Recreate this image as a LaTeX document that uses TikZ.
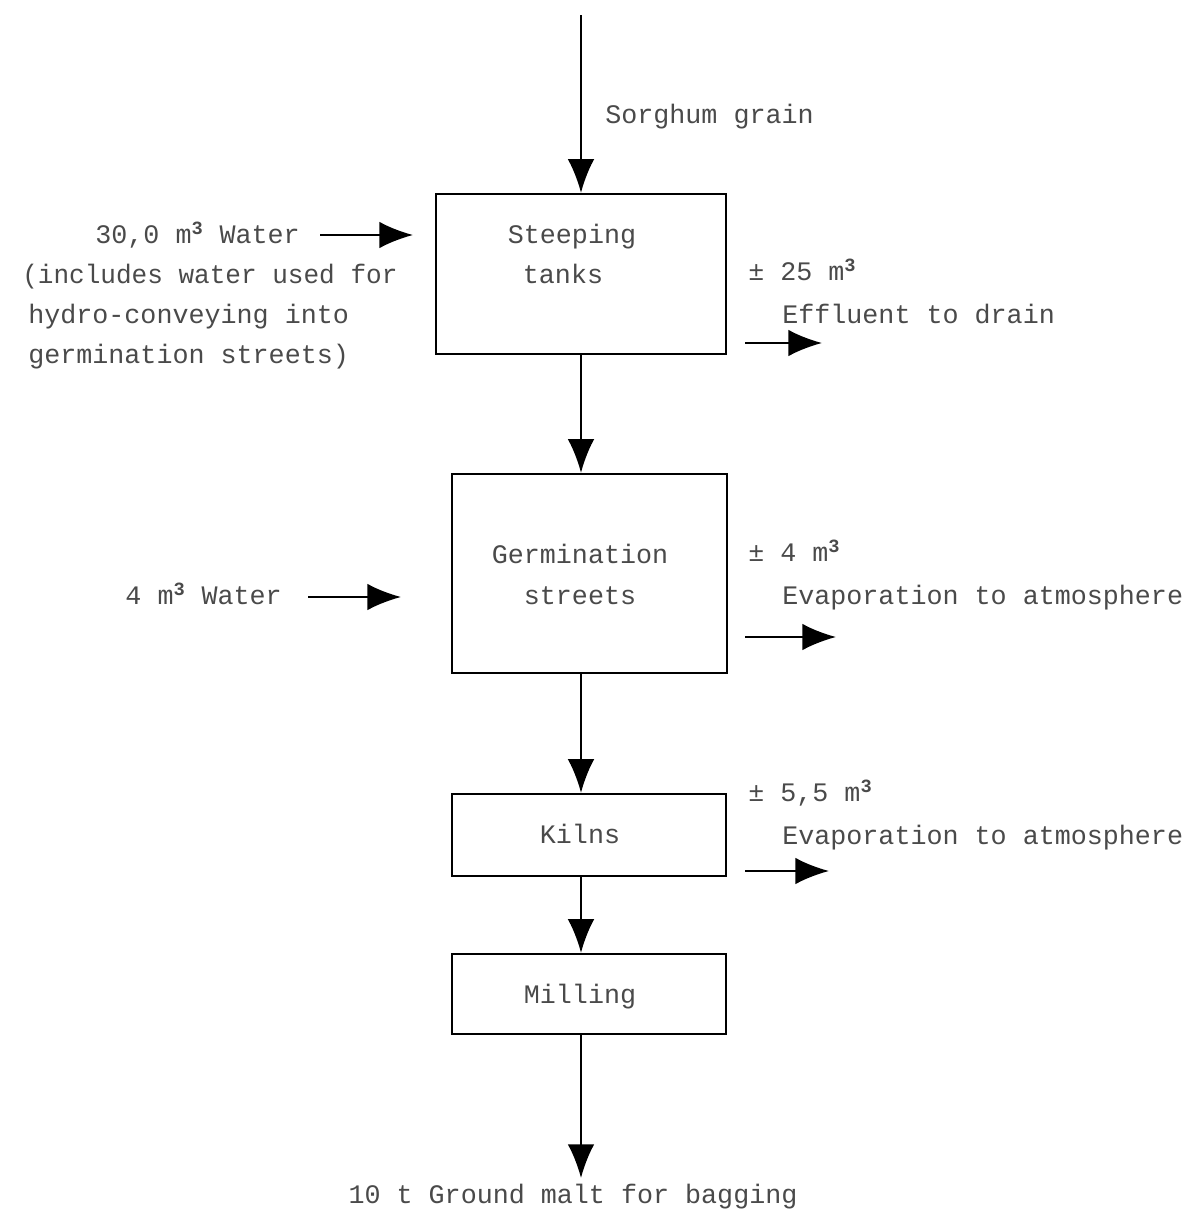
\documentclass[tikz,border=0pt]{standalone}
\usepackage{fontspec}
\newfontfamily\twfont{Liberation Mono}
\usetikzlibrary{arrows.meta}
\definecolor{txtgray}{HTML}{4A4A4A}
\tikzset{
  flow/.style={line width=1.6pt, -{Latex[length=24pt,width=19pt]}},
  box/.style={draw, line width=1.6pt, inner sep=0pt},
  lbl/.style={inner sep=0pt, text=txtgray, font=\twfont\fontsize{19}{40}\selectfont},
}
\newcommand{\cubed}{\textsuperscript{\bfseries 3}}
\begin{document}
\begin{tikzpicture}[x=0.025cm,y=-0.025cm]
\useasboundingbox (0,0) rectangle (1188,1210);
% boxes
\node[box, minimum width=7.25cm, minimum height=4cm] (steep) at (581,274) {};
\node[box, minimum width=6.875cm, minimum height=4.975cm] (germ) at (589.5,573.5) {};
\node[box, minimum width=6.85cm, minimum height=2.05cm] (kiln) at (589,835) {};
\node[box, minimum width=6.85cm, minimum height=2cm] (mill) at (589,994) {};
% box texts
\node[lbl, anchor=base] (tSteep1) at (572,243) {Steeping};
\node[lbl, anchor=base] (tSteep2) at (563,283) {tanks};
\node[lbl, anchor=base] (tGerm1) at (580,563) {Germination};
\node[lbl, anchor=base] (tGerm2) at (580,604) {streets};
\node[lbl, anchor=base] (tKiln) at (580,843) {Kilns};
\node[lbl, anchor=base] (tMill) at (580,1003) {Milling};
% main flow
\coordinate (top) at (581,15);
\coordinate (bottom) at (581,1178);
\draw[flow] (top) -- (steep.north);
\draw[flow] (steep.south) -- (steep.south |- germ.north);
\draw[flow] (steep.south |- germ.south) -- (steep.south |- kiln.north);
\draw[flow] (steep.south |- kiln.south) -- (steep.south |- mill.north);
\draw[flow] (steep.south |- mill.south) -- (bottom);
\node[lbl, anchor=base west] (sorg) at (605,123) {Sorghum grain};
\node[lbl, anchor=base] (out) at (573,1203) {10 t Ground malt for bagging};
% left inputs
\node[lbl, anchor=base east] (w30) at (300,243) {30,0 m\cubed{} Water};
\node[lbl, anchor=base west, xscale=0.975] (w30a) at (22,283) {(includes water used for};
\node[lbl, anchor=base west] (w30b) at (28,323) {hydro-conveying into};
\node[lbl, anchor=base west] (w30c) at (28,363) {germination streets)};
\coordinate (w30s) at (320,235);
\coordinate (w30e) at (413,235);
\draw[flow] (w30s) -- (w30e);
\node[lbl, anchor=base east] (w4) at (282,604) {4 m\cubed{} Water};
\coordinate (w4s) at (308,597);
\coordinate (w4e) at (401,597);
\draw[flow] (w4s) -- (w4e);
% right outputs
\node[lbl, anchor=base west] (e1a) at (748,280) {± 25 m\cubed};
\node[lbl, anchor=base west] (e1b) at (782,323) {Effluent to drain};
\coordinate (e1s) at (745,343);
\coordinate (e1e) at (822,343);
\draw[flow] (e1s) -- (e1e);
\node[lbl, anchor=base west] (e2a) at (748,561) {± 4 m\cubed};
\node[lbl, anchor=base west] (e2b) at (782,604) {Evaporation to atmosphere};
\coordinate (e2s) at (745,637);
\coordinate (e2e) at (836,637);
\draw[flow] (e2s) -- (e2e);
\node[lbl, anchor=base west] (e3a) at (748,801) {± 5,5 m\cubed};
\node[lbl, anchor=base west] (e3b) at (782,844) {Evaporation to atmosphere};
\coordinate (e3s) at (745,871);
\coordinate (e3e) at (829,871);
\draw[flow] (e3s) -- (e3e);
\end{tikzpicture}
\end{document}
